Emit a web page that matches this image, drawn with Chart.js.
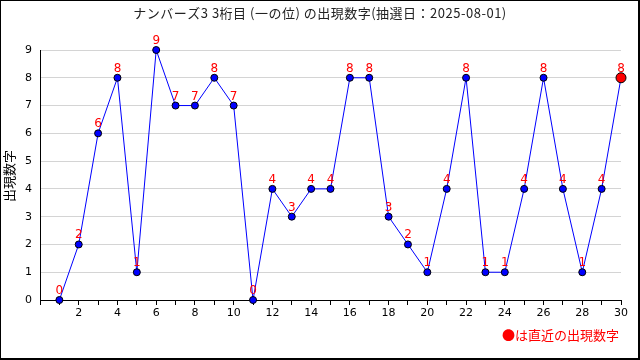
<!DOCTYPE html>
<html>
<head>
<meta charset="utf-8">
<script src="https://cdn.jsdelivr.net/npm/chart.js@4"></script>
<style>
  html, body { margin: 0; padding: 0; background: #fff; }
  #wrap { position: relative; width: 640px; height: 360px; }
</style>
</head>
<body>
<div id="wrap"><canvas id="chart" width="640" height="360"></canvas></div>
<script>
// 抽選回(1〜30)ごとの出現数字
const ROUNDS = [1,2,3,4,5,6,7,8,9,10,11,12,13,14,15,16,17,18,19,20,21,22,23,24,25,26,27,28,29,30];
const DIGITS = [0,2,6,8,1,9,7,7,8,7,0,4,3,4,4,8,8,3,2,1,4,8,1,1,4,8,4,1,4,8];

const TITLE   = 'ナンバーズ3 3桁目 (一の位) の出現数字(抽選日：2025-08-01)';
const Y_LABEL = '出現数字';
const NOTE    = '●は直近の出現数字';

const FONT = '"DejaVu Sans", "Noto Sans CJK JP", sans-serif';
const JP   = '"Noto Sans CJK JP", sans-serif';

Chart.defaults.font.family = FONT;
Chart.defaults.font.size = 11;
Chart.defaults.color = '#000';

const lastIdx = DIGITS.length - 1;

// 枠・タイトル・数値ラベルなど
const decor = {
  id: 'decor',
  beforeDraw(chart) {
    const c = chart.ctx;
    c.save();
    c.fillStyle = '#fff';
    c.fillRect(0, 0, chart.width, chart.height);
    c.restore();
  },
  afterDraw(chart) {
    const c = chart.ctx;
    const meta = chart.getDatasetMeta(0);
    c.save();
    // 数値ラベル
    c.fillStyle = '#ff0000';
    c.font = '12px ' + FONT;
    c.textAlign = 'center';
    c.textBaseline = 'alphabetic';
    meta.data.forEach((pt, i) => {
      c.fillText(String(DIGITS[i]), pt.x, pt.y - 6);
    });
    // タイトル
    c.save();
    c.fillStyle = '#222';
    c.font = '13px ' + JP;
    c.textBaseline = 'middle';
    c.letterSpacing = '0.5px';
    c.fillText(TITLE, 320, 13);
    c.restore();
    // 縦軸タイトル
    c.save();
    c.translate(9, 176);
    c.rotate(-Math.PI / 2);
    c.fillStyle = '#000';
    c.font = '13px ' + JP;
    c.textAlign = 'center';
    c.textBaseline = 'middle';
    c.fillText(Y_LABEL, 0, 0);
    c.restore();
    // 注記
    c.fillStyle = '#ff0000';
    c.font = '13px ' + JP;
    c.textAlign = 'right';
    c.textBaseline = 'middle';
    c.fillText(NOTE, 619, 335);
    // 外枠
    c.strokeStyle = '#000';
    c.lineWidth = 1;
    c.strokeRect(0.5, 0.5, 638, 358);
    c.beginPath();
    c.moveTo(639.5, 0); c.lineTo(639.5, 360);
    c.moveTo(0, 359.5); c.lineTo(640, 359.5);
    c.stroke();
    c.restore();
  }
};

new Chart(document.getElementById('chart'), {
  type: 'scatter',
  data: {
    datasets: [{
      data: ROUNDS.map((r, i) => ({ x: r, y: DIGITS[i] })),
      showLine: true,
      clip: false,
      borderColor: '#0000ff',
      borderWidth: 1,
      pointBackgroundColor: DIGITS.map((_, i) => i === lastIdx ? '#ff0000' : '#0000ff'),
      pointBorderColor: '#000',
      pointBorderWidth: 1,
      pointRadius: DIGITS.map((_, i) => i === lastIdx ? 5 : 3.5),
    }]
  },
  options: {
    responsive: false,
    animation: false,
    layout: { padding: { top: 50, right: 19, left: 0, bottom: 0 } },
    plugins: { legend: { display: false }, tooltip: { enabled: false }, title: { display: false } },
    scales: {
      x: {
        type: 'linear', min: 0, max: 30,
        afterFit: (s) => { s.height = 60; },
        border: { color: '#000', width: 1 },
        grid: { drawOnChartArea: false, drawTicks: true, tickLength: 5, color: '#000' },
        ticks: {
          stepSize: 1, autoSkip: false, maxRotation: 0, padding: 2,
          font: { size: 11 }, color: '#000',
          callback: (v) => (v > 0 && v % 2 === 0) ? String(v) : ''
        }
      },
      y: {
        min: 0, max: 9,
        afterFit: (s) => { s.width = 40; },
        border: { color: '#000', width: 1 },
        grid: { color: '#d4d4d4', drawTicks: false },
        ticks: { stepSize: 1, padding: 8, font: { size: 11 }, color: '#000' }
      }
    }
  },
  plugins: [decor]
});
</script>
</body>
</html>
